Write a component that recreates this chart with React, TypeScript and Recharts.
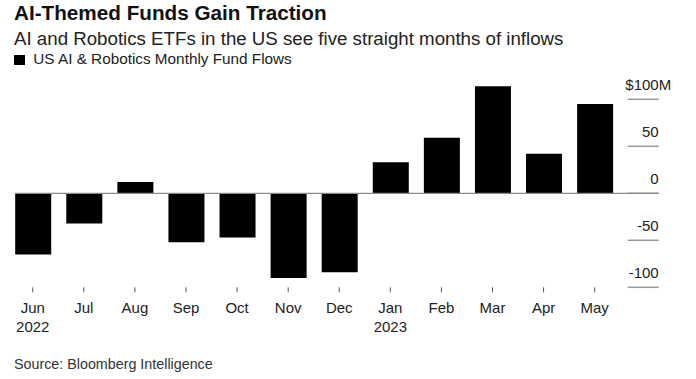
import { BarChart, Bar, XAxis, YAxis, ReferenceLine } from 'recharts';

const months = ['Jun', 'Jul', 'Aug', 'Sep', 'Oct', 'Nov', 'Dec', 'Jan', 'Feb', 'Mar', 'Apr', 'May'];
const years = ['2022', '', '', '', '', '', '', '2023', '', '', '', ''];
const flows = [-65, -32, 12, -52, -47, -90, -84, 33, 59, 114, 42, 95];
const yTicks = [-100, -50, 0, 50, 100];

const FONT = '"Liberation Sans", Arial, sans-serif';

const data = months.map((m, i) => ({ month: m, year: years[i], flow: flows[i] }));

function MonthTick(props: any) {
  const { x, y, payload, index } = props;
  const year = years[index];
  return (
    <g>
      <text x={x} y={y + 19} textAnchor="middle" fontSize={15} fill="#222" fontFamily={FONT}>
        {payload.value}
      </text>
      {year && (
        <text x={x} y={y + 37.5} textAnchor="middle" fontSize={15} fill="#222" fontFamily={FONT}>
          {year}
        </text>
      )}
    </g>
  );
}

// short grid segment + label on the right side for each y tick
function makeTickLine(value: number) {
  return (props: any) => {
    const { x2, y1 } = props;
    const left = x2 + 7.5;
    const right = x2 + 38.5;
    return (
      <g>
        <line x1={left} x2={right} y1={y1} y2={y1} stroke="#999" strokeWidth={1.5} />
        <text x={right} y={y1 - 9.5} textAnchor="end" fontSize={15} fill="#222" fontFamily={FONT}>
          {value === 100 ? '$100' : String(value)}
        </text>
        {value === 100 && (
          <text x={right} y={y1 - 9.5} textAnchor="start" fontSize={15} fill="#222" fontFamily={FONT}>
            M
          </text>
        )}
      </g>
    );
  };
}

function ZeroLine(props: any) {
  const { x1, x2, y1 } = props;
  return <line x1={x1 + 7.5} x2={x2 + 38.5} y1={y1} y2={y1} stroke="#8c8c8c" strokeWidth={1.2} />;
}

export default function App() {
  return (
    <div
      style={{
        position: 'absolute',
        left: 0,
        top: 0,
        width: 696,
        height: 379,
        background: '#fff',
        fontFamily: FONT,
        color: '#111',
      }}
    >
      <div style={{ position: 'absolute', left: 14, top: 2.5, fontSize: 20.7, lineHeight: 1, fontWeight: 700, whiteSpace: 'nowrap' }}>
        AI-Themed Funds Gain Traction
      </div>
      <div style={{ position: 'absolute', left: 14, top: 29.7, fontSize: 18.7, lineHeight: 1, color: '#222', whiteSpace: 'nowrap' }}>
        AI and Robotics ETFs in the US see five straight months of inflows
      </div>
      <div style={{ position: 'absolute', left: 14, top: 55, width: 11, height: 10, background: '#000' }} />
      <div style={{ position: 'absolute', left: 33.3, top: 50.5, fontSize: 15.3, lineHeight: 1, color: '#222', whiteSpace: 'nowrap' }}>
        US AI &amp; Robotics Monthly Fund Flows
      </div>
      <div style={{ position: 'absolute', left: 14, top: 356.9, fontSize: 14.3, lineHeight: 1, color: '#333', whiteSpace: 'nowrap' }}>
        Source: Bloomberg Intelligence
      </div>

      <div style={{ position: 'absolute', left: 0, top: 0 }}>
        <BarChart
          width={696}
          height={379}
          data={data}
          margin={{ top: 80.5, right: 75.8, bottom: 41.7, left: 7.2 }}
        >
          <XAxis
            dataKey="month"
            axisLine={false}
            tickLine={{ stroke: '#555' }}
            tickSize={5}
            height={50}
            interval={0}
            tick={<MonthTick />}
          />
          <YAxis hide domain={[-100, 120]} ticks={yTicks} />
          {yTicks
            .filter((v) => v !== 0)
            .map((v) => (
              <ReferenceLine key={v} y={v} shape={makeTickLine(v)} />
            ))}
          <ReferenceLine y={0} shape={makeTickLine(0)} />
          <ReferenceLine y={0} shape={ZeroLine} />
          <Bar dataKey="flow" fill="#000" barSize={36} isAnimationActive={false} />
        </BarChart>
      </div>
    </div>
  );
}
